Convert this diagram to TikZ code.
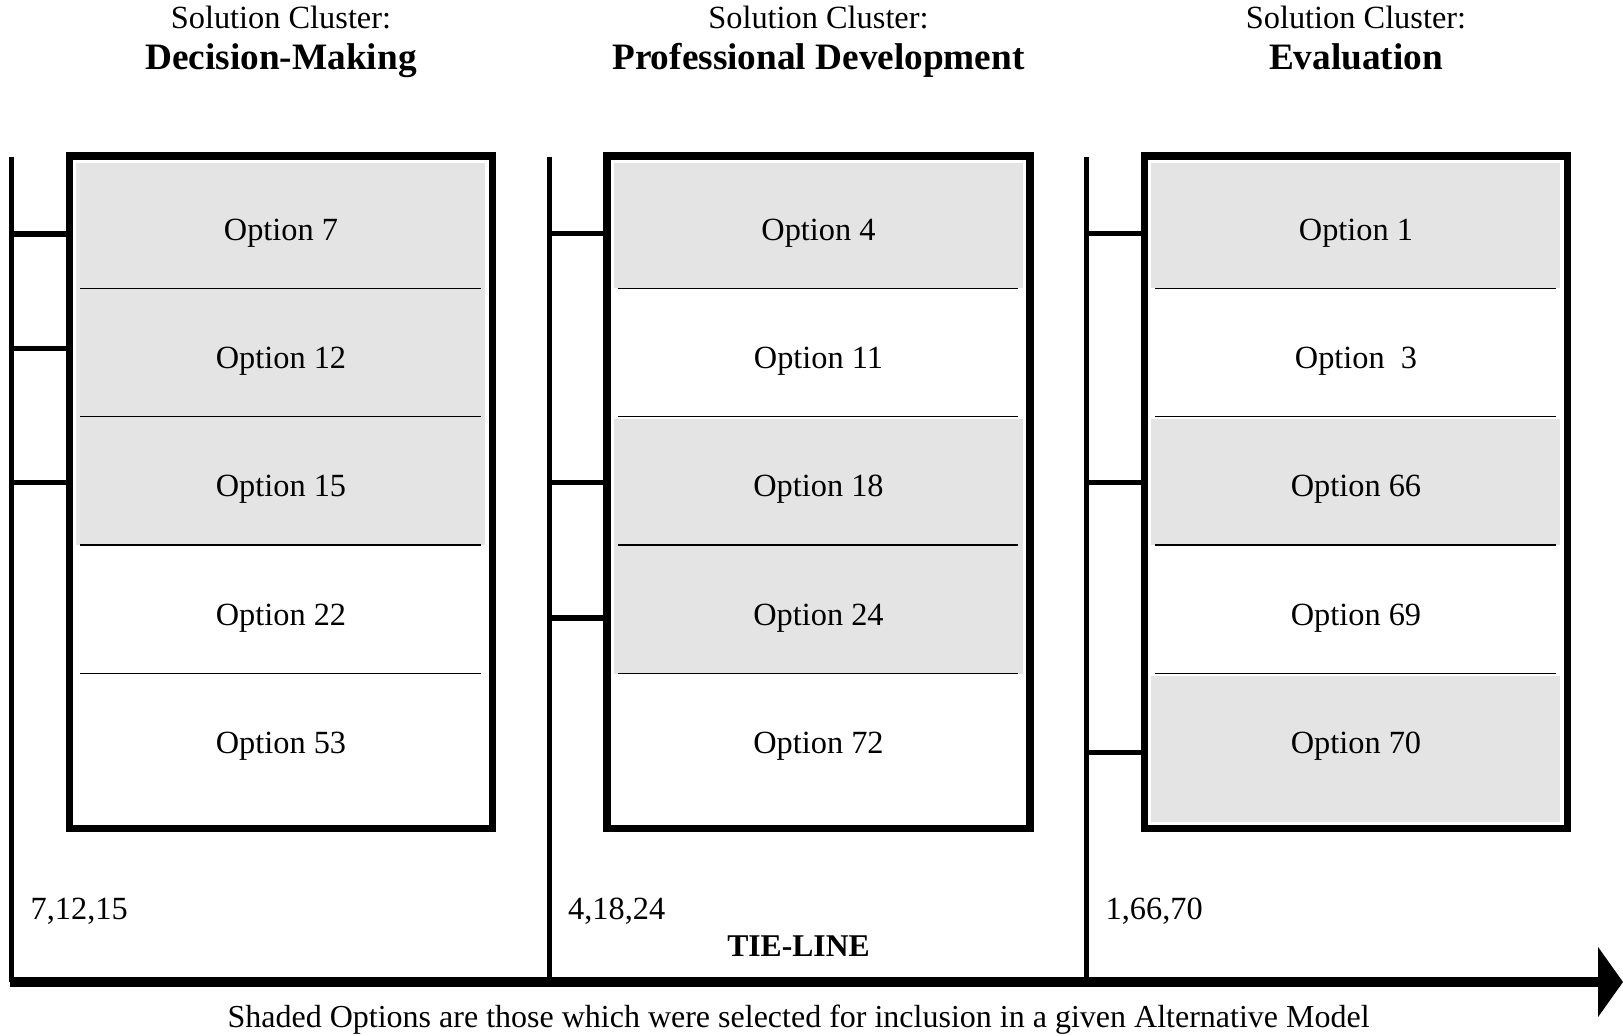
\documentclass[tikz,border=0pt]{standalone}
\usepackage{fontspec}
\setmainfont{Liberation Serif}
\usetikzlibrary{arrows.meta}
\definecolor{optgray}{RGB}{228,228,228}

\tikzset{
  cluster box/.style={draw, line width=2.19pt, minimum width=4.229cm, minimum height=6.717cm, inner sep=0pt},
  tie line/.style={line width=1.5pt},
  branch/.style={line width=1.5pt},
  divider/.style={line width=0.4pt},
  axis line/.style={line width=2.85pt, -{Triangle[length=7.1pt,width=19.6pt]}},
  txt/.style={anchor=base, inner sep=0pt, font=\fontsize{9.2}{11}\selectfont},
  heading/.style={txt, font=\fontsize{10.6}{12}\selectfont\bfseries},
}

\begin{document}
\begin{tikzpicture}[x=0.01cm, y=-0.01cm]
  \def\dx{537.5}
  \useasboundingbox (0,0) rectangle (1623,1036);

  % shaded options
  \foreach \k/\t/\b in {0/163/545.1, 1/163/288.3, 1/419/673.5, 2/163/288.3, 2/419/545.1, 2/676/822}
    \fill[optgray] (76+\k*\dx,\t) rectangle (485.4+\k*\dx,\b);

  % clusters
  \foreach \k/\name/\sel in {0/Decision-Making/{7,12,15}, 1/Professional Development/{4,18,24}, 2/Evaluation/{1,66,70}}{
    \node[txt] (head\k) at (281+\k*\dx,28.5) {Solution Cluster:};
    \node[heading] (title\k) at (281+\k*\dx,69) {\name};
    \node[cluster box] (box\k) at (281+\k*\dx,492.35) {};
    \coordinate (tie\k) at (11.7+\k*\dx,156.7);
    \coordinate (foot\k) at (11.7+\k*\dx,982);
    \draw[tie line] (tie\k) -- (foot\k);
    \foreach \i in {0,...,3}
      \draw[divider] (80+\k*\dx,288.3+128.4*\i) -- ++(400.7,0);
    \node[txt, anchor=base west] (sel\k) at (30+\k*\dx,919) {\sel};
  }

  % options
  \foreach \k/\a/\b/\c/\d/\e in {0/7/12/15/22/53, 1/4/11/18/24/72, 2/1/{\ 3}/66/69/70}
    \foreach \n [count=\i from 0] in {\a,\b,\c,\d,\e}
      \node[txt] (opt\k-\i) at (281+\k*\dx,240+128.4*\i) {Option \n};

  % selected options on the tie-line
  \foreach \k/\y in {0/233.9,0/348.8,0/482.4,1/233.4,1/482.4,1/618,2/233.4,2/482.7,2/752.5}{
    \coordinate (stub) at (11.7+\k*\dx,\y);
    \draw[branch] (stub) -- (stub -| box\k.west);
  }

  \coordinate (origin) at (9.5,982);
  \coordinate (axisend) at (1623,982);
  \draw[axis line] (origin) -- (axisend);

  \node[txt, font=\fontsize{9}{11}\selectfont\bfseries] (tieline) at (798.5,956) {TIE-LINE};
  \node[txt, font=\fontsize{9.1}{11}\selectfont] (caption) at (798.6,1027) {Shaded Options are those which were selected for inclusion in a given Alternative Model};
\end{tikzpicture}
\end{document}
